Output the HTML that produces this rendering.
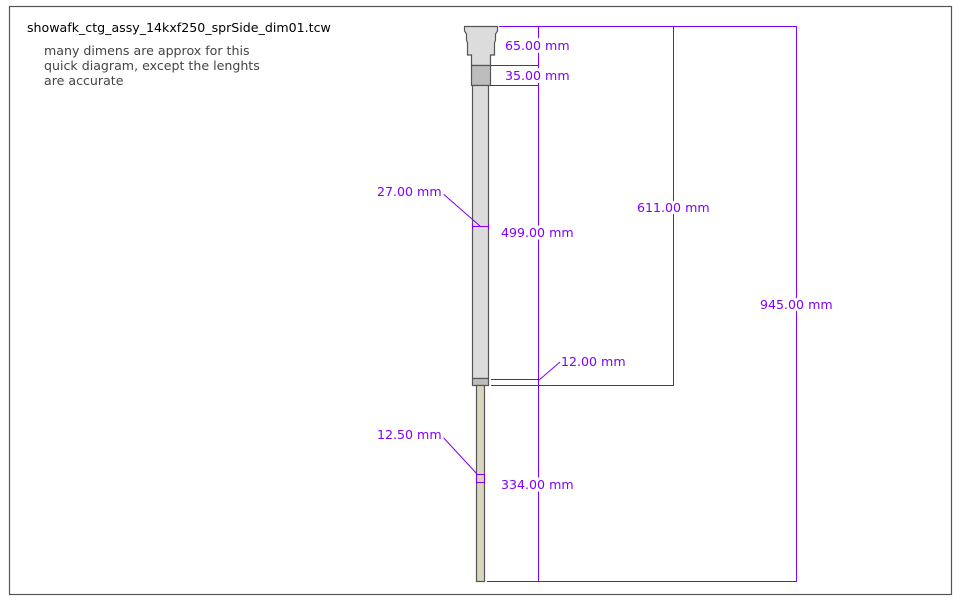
<!DOCTYPE html>
<html><head><meta charset="utf-8"><style>
html,body{margin:0;padding:0;background:#fff;width:960px;height:600px;overflow:hidden}
svg{display:block}
text{font-family:"DejaVu Sans","Liberation Sans",sans-serif;font-size:12.6px}
.d{fill:#7f00ff;stroke:#fff;stroke-width:6px;paint-order:stroke;stroke-linejoin:round}
</style></head><body>
<svg width="960" height="600" viewBox="0 0 960 600">
<rect x="9.5" y="6.5" width="942" height="588" fill="none" stroke="#555" stroke-width="1.2"/>
<text x="27" y="32" fill="#000">showafk_ctg_assy_14kxf250_sprSide_dim01.tcw</text>
<text x="44" y="55" fill="#444">many dimens are approx for this</text>
<text x="44" y="70" fill="#444">quick diagram, except the lenghts</text>
<text x="44" y="85" fill="#444">are accurate</text>
<g stroke="#555" stroke-width="1.2">
<path d="M464.5 26.5 H497.5 V31 L495.5 34 V40 L494.5 43 V55 H490.5 V65.5 H471.5 V55 H467.5 V43 L466.5 40 V34 L464.5 31 Z" fill="#dcdcdc"/>
<rect x="471.5" y="65.5" width="19" height="20" fill="#bdbdbd"/>
<rect x="472.5" y="85.5" width="16" height="293" fill="#dcdcdc"/>
<rect x="472.5" y="378.5" width="16" height="7" fill="#bdbdbd"/>
<rect x="476.5" y="385.5" width="8" height="196" fill="#d8d7bd"/>
</g>
<g stroke="#7f00ff" stroke-width="1" fill="none">
<path d="M499 26.5 H796.5 V581.5 H487"/>
<path d="M538.5 26.5 V581.5"/>
<path d="M673.5 26.5 V385.5 H491"/>
<path d="M491 65.5 H538"/>
<path d="M491 85.5 H538"/>
<path d="M491 379.5 H538"/>
<path d="M538 381 L560 362"/>
<path d="M441 192 L480 226"/>
<path d="M472.5 226.5 H488.5 M472.5 224 V229 M488.5 224 V229"/>
<path d="M441 435 L477 474"/>
<rect x="476.5" y="474.5" width="8" height="8"/>
</g>
<text class="d" x="505" y="50">65.00 mm</text>
<text class="d" x="505" y="80">35.00 mm</text>
<text class="d" x="637" y="212">611.00 mm</text>
<text class="d" x="501" y="237">499.00 mm</text>
<text class="d" x="760" y="309">945.00 mm</text>
<text class="d" x="561" y="366">12.00 mm</text>
<text class="d" x="377" y="196">27.00 mm</text>
<text class="d" x="377" y="439">12.50 mm</text>
<text class="d" x="501" y="489">334.00 mm</text>
</svg>
</body></html>
